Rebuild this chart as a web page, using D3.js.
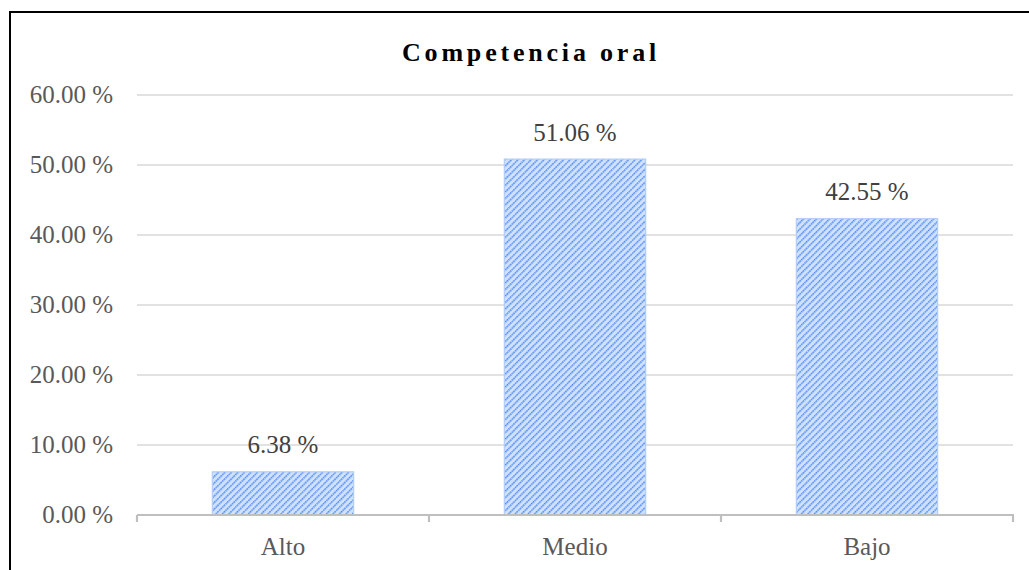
<!DOCTYPE html>
<html><head><meta charset="utf-8">
<script src="https://cdn.jsdelivr.net/npm/d3@7"></script>
<style>body{margin:0;background:#fff}svg{display:block}</style>
</head><body>
<svg id="c" width="1029" height="570"></svg>
<script>
const categories = ["Alto", "Medio", "Bajo"];
const values = [6.38, 51.06, 42.55];
const valueLabels = ["6.38 %", "51.06 %", "42.55 %"];
const yTicks = [0, 10, 20, 30, 40, 50, 60];
const title = "Competencia oral";

const svg = d3.select("#c");
const font = "'Liberation Serif','Times New Roman',serif";
// outer frame (extends past right/bottom edges)
svg.append("rect").attr("x", 10).attr("y", 12).attr("width", 1040).attr("height", 600)
  .attr("fill", "none").attr("stroke", "#000").attr("stroke-width", 2);

const defs = svg.append("defs");
const pat = defs.append("pattern").attr("id", "hatch").attr("patternUnits", "userSpaceOnUse")
  .attr("width", 4.6).attr("height", 4.6).attr("patternTransform", "rotate(45)");
pat.append("rect").attr("width", 4.6).attr("height", 4.6).attr("fill", "#d0e1fd");
pat.append("line").attr("x1", 0.8).attr("y1", 0).attr("x2", 0.8).attr("y2", 4.6)
  .attr("stroke", "#3f80f2").attr("stroke-width", 1.4).attr("stroke-dasharray", "1.6,0.7");

const x = d3.scaleBand().domain(categories).range([137, 1013]).paddingInner(0.516).paddingOuter(0.258);
const y = d3.scaleLinear().domain([0, 60]).range([515, 95]);

// gridlines
svg.append("g").selectAll("line").data(yTicks.filter(d => d > 0)).join("line")
  .attr("x1", 137).attr("x2", 1013).attr("y1", d => y(d)).attr("y2", d => y(d))
  .attr("stroke", "#d9d9d9").attr("stroke-width", 1.5);

// y labels
svg.append("g").selectAll("text").data(yTicks).join("text")
  .attr("x", 113).attr("y", d => y(d) + 8).attr("text-anchor", "end")
  .attr("font-family", font).attr("font-size", 25).attr("fill", "#595959")
  .text(d => d3.format(".2f")(d) + " %");

// bars
svg.append("g").selectAll("rect").data(values).join("rect")
  .attr("x", (d, i) => x(categories[i])).attr("width", x.bandwidth())
  .attr("y", d => y(d) + 1.5).attr("height", d => y(0) - y(d) - 1.5)
  .attr("fill", "url(#hatch)").attr("stroke", "#b3cdfb").attr("stroke-width", 1.2);

// x axis
svg.append("line").attr("x1", 137).attr("x2", 1014).attr("y1", 515).attr("y2", 515)
  .attr("stroke", "#bfbfbf").attr("stroke-width", 2.2);
const tickXs = [137].concat(categories.slice(1).map(c => x(c) - x.step() * x.paddingInner() / 2)).concat([1013]);
svg.append("g").selectAll("line").data(tickXs).join("line")
  .attr("x1", d => d).attr("x2", d => d).attr("y1", 515).attr("y2", 522)
  .attr("stroke", "#bfbfbf").attr("stroke-width", 2.2);

// category labels
svg.append("g").selectAll("text").data(categories).join("text")
  .attr("x", d => x(d) + x.bandwidth() / 2).attr("y", 555).attr("text-anchor", "middle")
  .attr("font-family", font).attr("font-size", 25).attr("fill", "#595959").text(d => d);

// value labels
svg.append("g").selectAll("text").data(values).join("text")
  .attr("x", (d, i) => x(categories[i]) + x.bandwidth() / 2).attr("y", d => y(d) - 17)
  .attr("text-anchor", "middle").attr("font-family", font).attr("font-size", 25).attr("fill", "#404040")
  .text((d, i) => valueLabels[i]);

// title
svg.append("text").attr("x", 531).attr("y", 61).attr("text-anchor", "middle")
  .attr("font-family", font).attr("font-size", 26).attr("font-weight", "bold")
  .attr("letter-spacing", 3.8).attr("fill", "#000").text(title);
</script>
</body></html>
